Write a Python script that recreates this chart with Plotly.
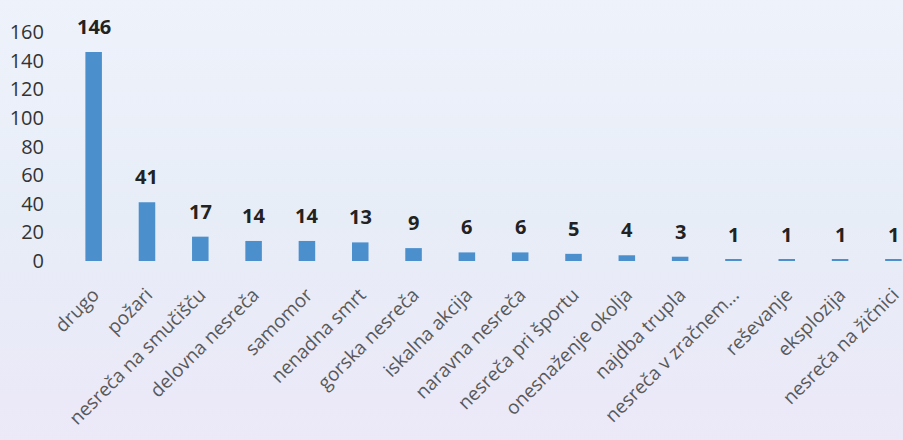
import plotly.graph_objects as go
import base64

categories = ["drugo", "požari", "nesreča na smučišču", "delovna nesreča", "samomor",
              "nenadna smrt", "gorska nesreča", "iskalna akcija", "naravna nesreča",
              "nesreča pri športu", "onesnaženje okolja", "najdba trupla",
              "nesreča v zračnem…", "reševanje", "eksplozija", "nesreča na žičnici"]
values = [146, 41, 17, 14, 14, 13, 9, 6, 6, 5, 4, 3, 1, 1, 1, 1]
y_ticks = [0, 20, 40, 60, 80, 100, 120, 140, 160]

# soft vertical background gradient (light blue -> lavender)
svg = ('<svg xmlns="http://www.w3.org/2000/svg" width="100" height="100" preserveAspectRatio="none">'
       '<defs><linearGradient id="g" x1="0" y1="0" x2="0" y2="1">'
       '<stop offset="0" stop-color="#eef2fb"/><stop offset="0.5" stop-color="#e7edf7"/>'
       '<stop offset="1" stop-color="#ece8f8"/></linearGradient></defs>'
       '<rect width="100" height="100" fill="url(#g)"/></svg>')
bg_uri = "data:image/svg+xml;base64," + base64.b64encode(svg.encode()).decode()

fig = go.Figure()
fig.add_trace(go.Bar(
    x=categories,
    y=values,
    width=0.31,
    marker=dict(color="#4b8fcc", line=dict(width=0)),
))

# value labels sitting well above the bars
for cat, val in zip(categories, values):
    fig.add_annotation(
        x=cat, y=val, text=f"<b>{val}</b>", showarrow=False,
        yanchor="bottom", yshift=10,
        font=dict(family="Open Sans", size=20, color="#222222"),
    )

fig.add_layout_image(
    source=bg_uri, xref="paper", yref="paper",
    x=-0.09, y=1.15, sizex=1.2, sizey=1.95,
    sizing="stretch", layer="below",
)

fig.update_layout(
    width=903, height=440,
    margin=dict(l=67, r=0, t=32, b=179),
    paper_bgcolor="#eaeef8",
    plot_bgcolor="rgba(0,0,0,0)",
    showlegend=False,
)
fig.update_xaxes(
    range=[-0.5, 15.18],
    tickangle=-45,
    automargin=False,
    showgrid=False, showline=False, zeroline=False,
    tickfont=dict(family="Open Sans", size=19, color="#595959"),
    ticklabelstandoff=18,
)
fig.update_yaxes(
    range=[0, 160],
    tickvals=y_ticks,
    automargin=False,
    showgrid=False, showline=False, zeroline=False,
    tickfont=dict(family="Open Sans", size=20, color="#333333"),
    ticklabelstandoff=22,
)

fig.write_html("out.html", config={"displayModeBar": False},
               post_script="document.body.style.margin='0';")
